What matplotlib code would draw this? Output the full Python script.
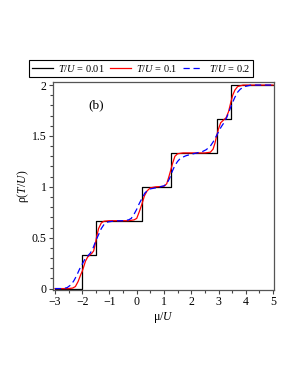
import matplotlib
matplotlib.use("Agg")
import matplotlib.pyplot as plt
from matplotlib.ticker import MultipleLocator, FormatStrFormatter

plt.rcParams['font.family'] = ['Liberation Serif', 'DejaVu Serif']
plt.rcParams['mathtext.fontset'] = 'custom'
plt.rcParams['mathtext.rm'] = 'Liberation Serif'
plt.rcParams['mathtext.it'] = 'Liberation Serif:italic'

# T/U = 0.01: sharp staircase (corners)
mu_001 = [-3.0, -2.0, -2.0, -1.5, -1.5, 0.19, 0.19, 1.25, 1.25, 2.93, 2.93, 3.45, 3.45, 5.0]
rho_001 = [0.0, 0.0, 0.333, 0.333, 0.667, 0.667, 1.0, 1.0, 1.333, 1.333, 1.667, 1.667, 2.0, 2.0]

# T/U = 0.1
mu_01 = [-3.0, -2.5, -2.35, -2.25, -2.15, -2.05, -2.0, -1.95, -1.88, -1.8, -1.72, -1.65,
         -1.58, -1.52, -1.47, -1.4, -1.3, -1.2, -1.0, -0.3, -0.1, 0.0, 0.1, 0.19, 0.28,
         0.38, 0.5, 0.7, 1.0, 1.1, 1.18, 1.25, 1.32, 1.4, 1.5, 1.7, 2.5, 2.7, 2.8, 2.87,
         2.93, 3.0, 3.08, 3.18, 3.28, 3.37, 3.45, 3.52, 3.6, 3.7, 3.9, 5.0]
rho_01 = [0.0, 0.0, 0.005, 0.02, 0.07, 0.14, 0.17, 0.21, 0.27, 0.31, 0.33, 0.345,
          0.37, 0.44, 0.51, 0.59, 0.645, 0.662, 0.667, 0.667, 0.675, 0.69, 0.76, 0.83, 0.91,
          0.96, 0.99, 1.0, 1.005, 1.03, 1.1, 1.167, 1.235, 1.3, 1.325, 1.333, 1.333, 1.34, 1.37, 1.43,
          1.5, 1.57, 1.63, 1.655, 1.68, 1.74, 1.83, 1.9, 1.95, 1.985, 2.0, 2.0]

# T/U = 0.2
mu_02 = [-3.0, -2.7, -2.55, -2.4, -2.3, -2.2, -2.1, -2.0, -1.9, -1.8, -1.7, -1.6, -1.5,
         -1.4, -1.3, -1.2, -1.05, -0.8, -0.5, -0.3, -0.2, -0.1, 0.0, 0.1, 0.2, 0.3, 0.4,
         0.5, 0.7, 0.85, 1.0, 1.1, 1.2, 1.3, 1.4, 1.5, 1.6, 1.8, 2.0, 2.2, 2.4, 2.55, 2.7,
         2.8, 2.9, 3.0, 3.1, 3.2, 3.3, 3.4, 3.5, 3.6, 3.7, 3.8, 3.95, 4.2, 5.0]
rho_02 = [0.0, 0.0, 0.01, 0.04, 0.08, 0.13, 0.19, 0.24, 0.29, 0.32, 0.35, 0.4, 0.47,
          0.53, 0.59, 0.63, 0.655, 0.665, 0.667, 0.675, 0.69, 0.73, 0.78, 0.84, 0.89, 0.94, 0.965,
          0.98, 0.99, 1.0, 1.01, 1.03, 1.08, 1.15, 1.21, 1.25, 1.28, 1.305, 1.32, 1.333, 1.345, 1.365, 1.4,
          1.44, 1.49, 1.54, 1.59, 1.63, 1.68, 1.75, 1.82, 1.88, 1.93, 1.96, 1.985, 2.0, 2.0]

fig = plt.figure(figsize=(2.98, 3.85), dpi=100)
ax = fig.add_axes([0.178, 0.247, 0.741, 0.540])

ax.plot(mu_001, rho_001, color='black', lw=0.9, label='$\\mathit{T/U}$ = 0.01')
ax.plot(mu_01, rho_01, color='red', lw=0.9, label='$\\mathit{T/U}$ = 0.1')
ax.plot(mu_02, rho_02, color='blue', lw=0.9, dashes=(5, 3), label='$\\mathit{T/U}$ = 0.2')

ax.set_xlim(-3.07, 5.03)
ax.set_ylim(-0.013, 2.03)
ax.xaxis.set_major_locator(MultipleLocator(1))
ax.xaxis.set_minor_locator(MultipleLocator(0.5))
ax.yaxis.set_major_locator(MultipleLocator(0.5))
ax.yaxis.set_minor_locator(MultipleLocator(0.1))
ax.yaxis.set_major_formatter(FormatStrFormatter('%g'))
ax.tick_params(which='both', direction='out', labelsize=8.5, width=0.8, color='#444444', pad=1.5)
ax.tick_params(which='major', length=3)
ax.tick_params(which='minor', length=2)
for s in ax.spines.values():
    s.set_color('#555555')
    s.set_linewidth(0.9)

ax.set_xlabel('μ/$\\mathit{U}$', fontsize=8.5, labelpad=1)
ax.set_ylabel('ρ($\\mathit{T/U}$)', fontsize=8.5, labelpad=1)
ax.text(-1.5, 1.8, '(b)', fontsize=9.5, ha='center', va='center')

leg = fig.legend(loc='center', bbox_to_anchor=(0.473, 0.822), ncol=3, fontsize=7.5,
                 frameon=True, fancybox=False, edgecolor='black', framealpha=1,
                 handlelength=2.0, handletextpad=0.5, columnspacing=0.5,
                 borderpad=0.25, borderaxespad=0)
leg.get_frame().set_linewidth(0.8)

fig.savefig('out.png', dpi=100)
